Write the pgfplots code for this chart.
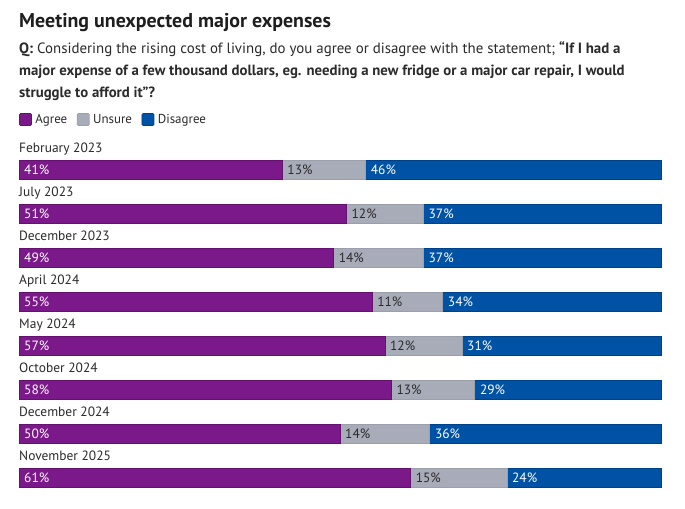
\documentclass[border=0pt]{standalone}
\usepackage{pgfplots}
\pgfplotsset{compat=1.18}
\usepackage{pgfplotstable}
\usepackage{fontspec}
\setmainfont{PT Sans}

\definecolor{agreecol}{HTML}{7B198A}
\definecolor{agreeedge}{HTML}{651170}
\definecolor{unsurecol}{HTML}{A7ACB8}
\definecolor{unsureedge}{HTML}{9A9FAB}
\definecolor{disagreecol}{HTML}{0052A5}
\definecolor{disagreeedge}{HTML}{00428A}
\definecolor{titlecol}{HTML}{1E1E1E}
\definecolor{textcol}{HTML}{2B2B2B}

% Survey results, one row per wave
\pgfplotstableread[col sep=comma]{
idx,month,agree,unsure,disagree
0,February 2023,41,13,46
1,July 2023,51,12,37
2,December 2023,49,14,37
3,April 2024,55,11,34
4,May 2024,57,12,31
5,October 2024,58,13,29
6,December 2024,50,14,36
7,November 2025,61,15,24
}\survey

\tikzset{
  vallab/.style={anchor=west, inner sep=0pt, xshift=5bp, font=\fontsize{13.5}{13.5}\selectfont},
  catlab/.style={anchor=base west, inner sep=0pt, text=textcol, font=\fontsize{13.5}{14}\selectfont},
}
\pgfplotsset{
  legsq/.style={legend image code/.code={\draw[##1, rounded corners=1.2bp] (0bp,-6bp) rectangle (12bp,6bp);}},
}

\begin{document}
\begin{tikzpicture}
\path[use as bounding box, fill=white] (0bp,0bp) rectangle (685bp,509bp);

\node[anchor=base west, inner sep=0pt, text=titlecol, font=\fontsize{20}{22}\selectfont\bfseries]
  at (19bp,481.5bp) {Meeting unexpected major expenses};
\node[anchor=base west, inner sep=0pt, text=textcol, font=\fontsize{14.95}{22}\selectfont]
  at (19bp,455.5bp) {\textbf{Q:} Considering the rising cost of living, do you agree or disagree with the statement; \textbf{“If I had a}};
\node[anchor=base west, inner sep=0pt, text=textcol, font=\fontsize{14.85}{22}\selectfont\bfseries]
  at (19bp,433.5bp) {major expense of a few thousand dollars, eg. needing a new fridge or a major car repair, I would};
\node[anchor=base west, inner sep=0pt, text=textcol, font=\fontsize{14.85}{22}\selectfont\bfseries]
  at (19bp,411.5bp) {struggle to afford it”?};

\begin{axis}[
  at={(19bp,9bp)}, anchor=south west,
  scale only axis, width=642bp, height=352bp,
  xmin=0, xmax=100, ymin=-0.5, ymax=7.5, y dir=reverse,
  xbar stacked, bar width=19.5bp,
  axis lines=none, ticks=none,
  clip=false,
  legend columns=-1,
  legend style={at={(0,1)}, anchor=west, yshift=28.5bp, draw=none, fill=none,
    inner sep=0pt, font=\fontsize{13}{13}\selectfont, text=textcol,
    nodes={inner xsep=3.5bp},
    /tikz/every even column/.append style={column sep=6bp}},
]
\addplot[legsq, fill=agreecol, draw=agreeedge, line width=0.8bp] table[x=agree, y=idx]{\survey};
\addlegendentry{Agree}
\addplot[legsq, fill=unsurecol, draw=unsureedge, line width=0.8bp] table[x=unsure, y=idx]{\survey};
\addlegendentry{Unsure}
\addplot[legsq, fill=disagreecol, draw=disagreeedge, line width=0.8bp] table[x=disagree, y=idx]{\survey};
\addlegendentry{Disagree}

% Wave names above the bars; anchors at the start of each segment for the shares
\pgfplotsinvokeforeach{0,...,7}{
  \pgfplotstablegetelem{#1}{month}\of\survey \edef\vm{\pgfplotsretval}
  \pgfplotstablegetelem{#1}{agree}\of\survey \edef\va{\pgfplotsretval}
  \pgfplotstablegetelem{#1}{unsure}\of\survey \edef\vu{\pgfplotsretval}
  \pgfmathtruncatemacro\vau{\va+\vu}
  \edef\doit{
    \noexpand\node[catlab] at (axis cs:0,#1-0.4) {\vm};
    \noexpand\coordinate (sa#1) at (axis cs:0,#1);
    \noexpand\coordinate (su#1) at (axis cs:\va,#1);
    \noexpand\coordinate (sd#1) at (axis cs:\vau,#1);
  }\doit
}
\end{axis}

% Shares printed on top of the bars
\foreach \i in {0,...,7}{
  \pgfplotstablegetelem{\i}{agree}\of\survey \edef\va{\pgfplotsretval}
  \pgfplotstablegetelem{\i}{unsure}\of\survey \edef\vu{\pgfplotsretval}
  \pgfplotstablegetelem{\i}{disagree}\of\survey \edef\vd{\pgfplotsretval}
  \node[vallab, text=white] at (sa\i) {\va\%};
  \node[vallab, text=textcol] at (su\i) {\vu\%};
  \node[vallab, text=white] at (sd\i) {\vd\%};
}
\end{tikzpicture}
\end{document}
